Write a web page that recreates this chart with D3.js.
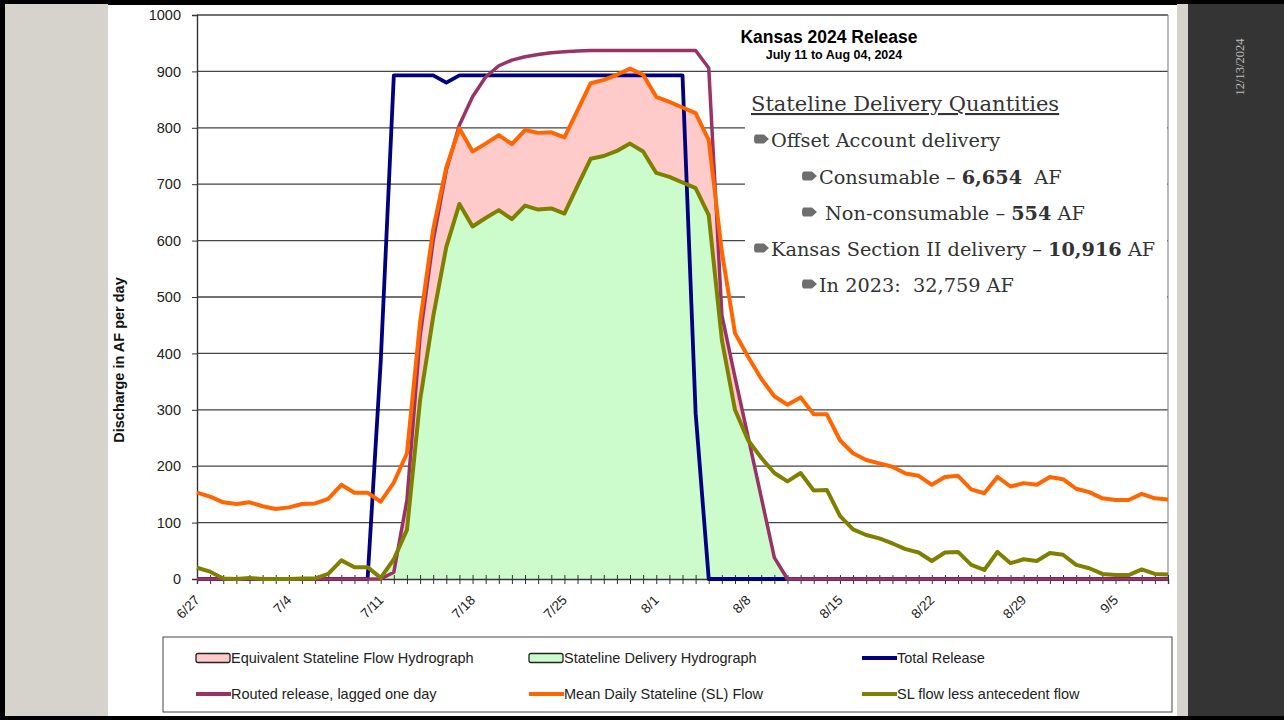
<!DOCTYPE html>
<html>
<head>
<meta charset="utf-8">
<script src="https://cdn.jsdelivr.net/npm/d3@7"></script>
<style>
  body { margin: 0; background: #000; }
  svg { display: block; }
</style>
</head>
<body>
<div id="chart"></div>
<script>
// ---- data ----
const startDate = new Date(2024, 5, 27);   // 6/27
const endDate = new Date(2024, 8, 9);      // 9/9
const tickLabels = ["6/27", "7/4", "7/11", "7/18", "7/25", "8/1", "8/8", "8/15", "8/22", "8/29", "9/5"];
const yTicks = [0, 100, 200, 300, 400, 500, 600, 700, 800, 900, 1000];

// one value per day, 6/27 .. 9/9
const totalRelease = [
  0, 0, 0, 0, 0, 0, 0, 0, 0, 0, 0, 0, 0, 0,
  385, 893, 893, 893, 893, 880,
  893, 893, 893, 893, 893, 893, 893, 893, 893, 893, 893, 893, 893, 893, 893, 893, 893, 893,
  294,
  0, 0, 0, 0, 0, 0, 0, 0, 0, 0, 0, 0, 0, 0, 0, 0, 0, 0,
  0, 0, 0, 0, 0, 0, 0, 0, 0, 0, 0, 0, 0, 0, 0, 0, 0, 0
];
const routedRelease = [
  0, 0, 0, 0, 0, 0, 0, 0, 0, 0, 0, 0, 0, 0, 0,
  12, 140, 430, 600, 725, 805, 855, 890, 910, 920, 926, 930, 933, 935, 936,
  937, 937, 937, 937, 937, 937, 937, 937, 937,
  906, 468, 358, 252, 145, 38,
  0, 0, 0, 0, 0, 0, 0, 0, 0, 0, 0, 0, 0, 0, 0,
  0, 0, 0, 0, 0, 0, 0, 0, 0, 0, 0, 0, 0, 0, 0
];
const meanDailySL = [
  153, 146, 136, 133, 136, 129, 124, 127, 133, 134, 142, 167, 153, 153,
  137, 171, 223, 455, 620, 730,
  799, 758, 772, 787, 771, 796, 791, 792, 783, 831, 879, 885, 894, 905, 894, 855, 846, 836, 826,
  778, 580, 436, 394, 355, 324, 309, 322,
  292, 292, 246, 223, 211, 205, 199, 187, 183, 167, 181, 183, 159, 152,
  181, 164, 170, 167, 181, 177, 160, 154, 143, 140, 140, 151, 143, 141
];
const slLessAntecedent = [
  20, 13, 1, 0, 2, 0, 0, 0, 1, 1, 9, 33, 21, 21,
  2, 35, 87, 317, 465, 589,
  665, 625, 640, 654, 638, 662, 655, 657, 648, 697, 745, 750, 759, 772, 758, 720, 713, 703, 693,
  645, 424, 300, 246, 215, 188, 173, 188,
  157, 158, 112, 88, 78, 72, 63, 53, 47, 32, 47, 48, 25, 16,
  48, 28, 35, 32, 46, 43, 25, 19, 9, 7, 7, 17, 9, 8
];
const equivalentSL = [
  0, 0, 0, 0, 0, 0, 0, 0, 0, 0, 0, 0, 0, 0,
  0, 12, 140, 430, 600, 725,
  799, 758, 772, 787, 771, 796, 791, 792, 783, 831, 879, 885, 894, 905, 894, 855, 846, 836, 826,
  778, 468, 358, 252, 145, 38,
  0, 0, 0, 0, 0, 0, 0, 0, 0, 0, 0, 0, 0, 0, 0,
  0, 0, 0, 0, 0, 0, 0, 0, 0, 0, 0, 0, 0, 0, 0
];
const stateDelivery = [
  0, 0, 0, 0, 0, 0, 0, 0, 0, 0, 0, 0, 0, 0,
  2, 35, 87, 317, 465, 589,
  665, 625, 640, 654, 638, 662, 655, 657, 648, 697, 745, 750, 759, 772, 758, 720, 713, 703, 693,
  645, 424, 300, 241, 145, 38,
  0, 0, 0, 0, 0, 0, 0, 0, 0, 0, 0, 0, 0, 0, 0,
  0, 0, 0, 0, 0, 0, 0, 0, 0, 0, 0, 0, 0, 0, 0
];

const legendNames = [
  "Equivalent Stateline Flow Hydrograph", "Stateline Delivery Hydrograph", "Total Release",
  "Routed release, lagged one day", "Mean Daily Stateline (SL) Flow", "SL flow less antecedent flow"
];

// ---- layout ----
const W = 1284, H = 720;
const plot = { left: 197, right: 1168, top: 15, bottom: 579 };
const colors = {
  pink: "#ffcaca", green: "#ccfccc", blue: "#000080",
  purple: "#993366", orange: "#ff6600", olive: "#808000"
};
const sans = "'Liberation Sans', Arial, sans-serif";
const serif = "'DejaVu Serif', 'Liberation Serif', serif";

const svg = d3.select("#chart").append("svg")
  .attr("width", W).attr("height", H);

// slide background
svg.append("rect").attr("width", W).attr("height", H).attr("fill", "#000");
svg.append("rect").attr("x", 5).attr("y", 4).attr("width", 103).attr("height", 712).attr("fill", "#d6d3cc");
svg.append("rect").attr("x", 108).attr("y", 5).attr("width", 1069).attr("height", 711).attr("fill", "#fff");
svg.append("rect").attr("x", 1177).attr("y", 4).attr("width", 11).attr("height", 712).attr("fill", "#d6d3cc");
svg.append("rect").attr("x", 1188).attr("y", 4).attr("width", 96).attr("height", 712).attr("fill", "#343434");
svg.append("text")
  .attr("transform", "translate(1244,67) rotate(-90)")
  .attr("text-anchor", "middle")
  .attr("font-family", "'Liberation Serif', serif").attr("font-size", 12.5).attr("fill", "#bdbdbd")
  .text("12/13/2024");

// scales
const x = d3.scaleTime().domain([startDate, endDate]).range([plot.left, plot.right]);
const y = d3.scaleLinear().domain([0, 1000]).range([plot.bottom, plot.top]);
const dayX = (d, i) => x(d3.timeDay.offset(startDate, i));

// gridlines
svg.append("g").selectAll("line").data(yTicks.filter(v => v > 0)).join("line")
  .attr("x1", plot.left).attr("x2", plot.right)
  .attr("y1", d => y(d)).attr("y2", d => y(d))
  .attr("stroke", "#454545").attr("stroke-width", 1.3);
svg.append("line")
  .attr("x1", plot.right).attr("x2", plot.right).attr("y1", plot.top).attr("y2", plot.bottom)
  .attr("stroke", "#8a8a8a").attr("stroke-width", 1.2);

// text box over the upper right of the plot
svg.append("rect").attr("x", 745).attr("y", 79).attr("width", plot.right - 745 - 1).attr("height", 262)
  .attr("fill", "#fff");

// areas
const area = d3.area().x(dayX).y0(y(0)).y1(d => y(d));
svg.append("path").datum(equivalentSL).attr("d", area).attr("fill", colors.pink);
svg.append("path").datum(stateDelivery).attr("d", area).attr("fill", colors.green);

// y axis
const yAxis = svg.append("g").attr("transform", `translate(${plot.left},0)`)
  .call(d3.axisLeft(y).tickValues(yTicks).tickFormat(d3.format("d")).tickSize(5).tickPadding(11));
yAxis.select(".domain").attr("stroke", "#333").attr("stroke-width", 1.4);
yAxis.selectAll(".tick line").attr("stroke", "#333");
yAxis.selectAll("text").attr("font-family", sans).attr("font-size", 14.5).attr("fill", "#222");

svg.append("text")
  .attr("transform", "translate(124,360) rotate(-90)")
  .attr("text-anchor", "middle")
  .attr("font-family", sans).attr("font-size", 14.5).attr("font-weight", "bold").attr("fill", "#111")
  .text("Discharge in AF per day");

// x axis: a tick every day, labels every week
const labelDates = tickLabels.map(s => {
  const [m, d] = s.split("/").map(Number);
  return new Date(2024, m - 1, d);
});
const labelFor = d => {
  const k = labelDates.findIndex(ld => +ld === +d);
  return k >= 0 ? tickLabels[k] : "";
};
const xAxis = svg.append("g").attr("transform", `translate(0,${plot.bottom})`)
  .call(d3.axisBottom(x).ticks(d3.timeDay.every(1)).tickSize(5).tickFormat(labelFor));
xAxis.select(".domain").attr("stroke", "#333").attr("stroke-width", 1.4);
xAxis.selectAll(".tick line").attr("y1", -4).attr("y2", 5).attr("stroke", "#333");
xAxis.selectAll(".tick text")
  .attr("font-family", sans).attr("font-size", 13.5).attr("fill", "#222")
  .attr("text-anchor", "end").attr("y", 0).attr("dy", 0)
  .attr("transform", "translate(3,22) rotate(-45)");

// lines
const line = d3.line().x(dayX).y(d => y(d));
const series = [
  { values: totalRelease, color: colors.blue, width: 3.8 },
  { values: routedRelease, color: colors.purple, width: 3.5 },
  { values: meanDailySL, color: colors.orange, width: 4 },
  { values: slLessAntecedent, color: colors.olive, width: 4 }
];
svg.append("g").selectAll("path").data(series).join("path")
  .attr("d", s => line(s.values))
  .attr("fill", "none")
  .attr("stroke", s => s.color)
  .attr("stroke-width", s => s.width)
  .attr("stroke-linejoin", "round");

// title
svg.append("text").attr("x", 829).attr("y", 43).attr("text-anchor", "middle")
  .attr("font-family", sans).attr("font-size", 17.5).attr("font-weight", "bold").attr("fill", "#000")
  .text("Kansas 2024 Release");
svg.append("text").attr("x", 834).attr("y", 59).attr("text-anchor", "middle")
  .attr("font-family", sans).attr("font-size", 12.5).attr("font-weight", "bold").attr("fill", "#000")
  .text("July 11 to Aug 04, 2024");

// delivery quantities text
const box = svg.append("g").attr("font-family", serif).attr("fill", "#333");
box.append("text").attr("x", 751).attr("y", 111).attr("font-size", 21)
  .attr("text-decoration", "underline").text("Stateline Delivery Quantities");

const bullets = [
  { bx: 755, by: 139, tx: 771, ty: 147, parts: [["Offset Account delivery", false]] },
  { bx: 803, by: 176, tx: 819, ty: 184, parts: [["Consumable \u2013 ", false], ["6,654", true], ["  AF", false]] },
  { bx: 803, by: 212, tx: 825, ty: 220, parts: [["Non-consumable \u2013 ", false], ["554", true], [" AF", false]] },
  { bx: 755, by: 248, tx: 771, ty: 256, parts: [["Kansas Section II delivery \u2013 ", false], ["10,916", true], [" AF", false]] },
  { bx: 803, by: 284, tx: 819, ty: 292, parts: [["In 2023:  32,759 AF", false]] }
];
bullets.forEach(b => {
  box.append("path")
    .attr("transform", `translate(${b.bx},${b.by})`)
    .attr("d", "M1,-4.5 H9 L14,0 L9,4.5 H1 Q-1,4.5 -1,0 Q-1,-4.5 1,-4.5 Z")
    .attr("fill", "#6e6e6e");
  const t = box.append("text").attr("x", b.tx).attr("y", b.ty).attr("font-size", 19.3)
    .attr("xml:space", "preserve").style("white-space", "pre");
  b.parts.forEach(([s, bold]) => {
    t.append("tspan").attr("font-weight", bold ? "bold" : null).text(s);
  });
});

// legend
const legend = svg.append("g");
legend.append("rect").attr("x", 163).attr("y", 637).attr("width", 1009).attr("height", 75)
  .attr("fill", "#fff").attr("stroke", "#444").attr("stroke-width", 1);
const legendSym = [
  { type: "area", color: colors.pink }, { type: "area", color: colors.green }, { type: "line", color: colors.blue },
  { type: "line", color: colors.purple }, { type: "line", color: colors.orange }, { type: "line", color: colors.olive }
];
const colX = [196, 529, 862];
const rowY = [658, 694];
legendNames.forEach((name, i) => {
  const lx = colX[i % 3], ly = rowY[Math.floor(i / 3)];
  const sym = legendSym[i];
  if (sym.type === "area") {
    legend.append("rect").attr("x", lx).attr("y", ly - 4.5).attr("width", 34).attr("height", 9).attr("rx", 2)
      .attr("fill", sym.color).attr("stroke", "#222").attr("stroke-width", 1.3);
  } else {
    legend.append("line").attr("x1", lx).attr("x2", lx + 35).attr("y1", ly).attr("y2", ly)
      .attr("stroke", sym.color).attr("stroke-width", 4);
  }
  legend.append("text").attr("x", lx + 35).attr("y", ly).attr("dy", "0.35em")
    .attr("font-family", sans).attr("font-size", 14.5).attr("fill", "#222").text(name);
});
</script>
</body>
</html>
